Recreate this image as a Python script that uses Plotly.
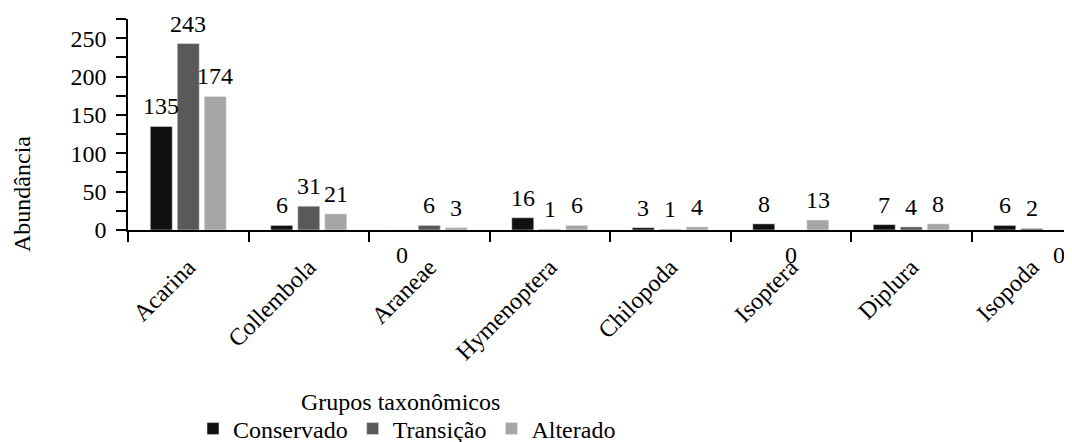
import plotly.graph_objects as go

categories = ["Acarina", "Collembola", "Araneae", "Hymenoptera", "Chilopoda", "Isoptera", "Diplura", "Isopoda"]
conservado = [135, 6, 0, 16, 3, 8, 7, 6]
transicao = [243, 31, 6, 1, 1, 0, 4, 2]
alterado = [174, 21, 3, 6, 4, 13, 8, 0]

series = [("Conservado", conservado, "#111111"),
          ("Transição", transicao, "#595959"),
          ("Alterado", alterado, "#a6a6a6")]

FONT = "Liberation Serif"
FS = 24
# page has an 8px body margin; work in page pixels and convert
OFF = 8
W, H = 1072 - OFF, 442 - OFF
PL, PT, PB = 128 - OFF, 19 - OFF, 230 - OFF   # plot left, top, zero line (figure px)
PW, PH = W - PL, PB - PT
CAT_PX = 120.5
SLOT = 27 / CAT_PX


def px(xp):
    return (xp - OFF - PL) / PW


def py(yp):
    return (PB - (yp - OFF)) / PH


fig = go.Figure()
annotations = []
for s, (name, vals, color) in enumerate(series):
    fig.add_trace(go.Bar(
        name=name, x=categories, y=vals, marker_color=color,
        cliponaxis=False,
    ))
    for i, v in enumerate(vals):
        annotations.append(dict(
            x=i + (s - 1) * SLOT, y=v, xref="x", yref="y",
            text=str(v), showarrow=False,
            yanchor="bottom" if v != 0 else "middle",
            yshift=5 if v != 0 else -25,
            font=dict(family=FONT, size=FS, color="black")))

annotations.append(dict(x=px(400), y=py(402), xref="paper", yref="paper",
                        xanchor="center", yanchor="middle",
                        text="Grupos taxonômicos", showarrow=False,
                        font=dict(family=FONT, size=FS, color="black")))
annotations.append(dict(x=px(22), y=py(194), xref="paper", yref="paper",
                        xanchor="center", yanchor="middle", borderpad=0,
                        text="Abundância", showarrow=False, textangle=-90,
                        font=dict(family=FONT, size=FS, color="black")))

fig.update_layout(
    width=W, height=H,
    margin=dict(l=PL, r=0, t=PT, b=H - PB, autoexpand=False),
    paper_bgcolor="white", plot_bgcolor="white",
    barmode="group", bargap=0.328, bargroupgap=0.185,
    font=dict(family=FONT, size=FS, color="black"),
    showlegend=True,
    legend=dict(orientation="h", x=px(407), xanchor="center",
                y=py(429), yanchor="middle",
                font=dict(family=FONT, size=FS, color="black"),
                itemwidth=30, tracegroupgap=0),
    annotations=annotations,
)
fig.update_xaxes(
    range=[-0.5, -0.5 + PW / CAT_PX], automargin=False,
    showline=True, linecolor="black", linewidth=1.5,
    ticks="outside", tickson="boundaries", ticklen=10, tickcolor="black", tickwidth=1.5,
    tickangle=-45, ticklabelstandoff=12,
    tickfont=dict(family=FONT, size=FS, color="black"),
    showgrid=False, zeroline=False,
)
fig.update_yaxes(
    range=[0, 275], dtick=50, tick0=0, automargin=False,
    showline=True, linecolor="black", linewidth=1.5,
    ticks="outside", ticklen=10, tickcolor="black", tickwidth=1.5,
    ticklabelstandoff=5,
    minor=dict(dtick=25, ticks="outside", ticklen=10, tickcolor="black", tickwidth=1.5, showgrid=False),
    tickfont=dict(family=FONT, size=FS, color="black"),
    showgrid=False, zeroline=False,
)
fig.write_html("out.html")
